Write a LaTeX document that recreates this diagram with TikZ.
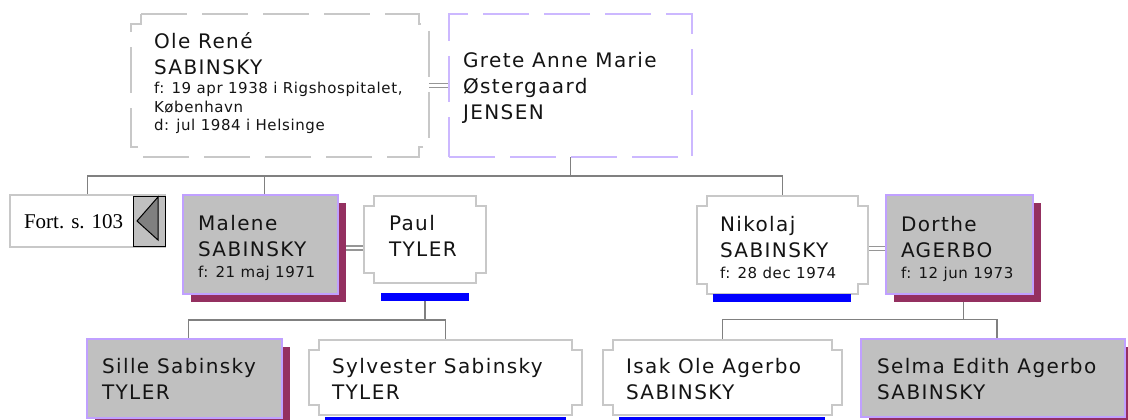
\documentclass[tikz,border=0pt]{standalone}
\usepackage{fontspec}
\setmainfont{DejaVu Sans}
\newfontfamily\bigf{DejaVu Sans}[LetterSpace=7]
\newfontfamily\smallf{DejaVu Sans}[LetterSpace=4]
\newfontfamily\serf{Liberation Serif}
\usetikzlibrary{calc,shadows}
\pgfdeclarelayer{bg}
\pgfsetlayers{bg,main}
\definecolor{lineg}{RGB}{128,128,128}
\definecolor{marg}{RGB}{150,150,150}
\definecolor{boxg}{RGB}{192,192,192}
\definecolor{lav}{RGB}{192,160,255}
\definecolor{lavd}{RGB}{204,184,255}
\definecolor{shad}{RGB}{148,48,96}
\definecolor{nbord}{RGB}{200,200,200}
\definecolor{barblue}{RGB}{0,0,255}
\definecolor{txt}{RGB}{20,20,20}
\definecolor{tri}{RGB}{128,128,128}
\newcommand\BL[1]{\hbox{\bigf\fontsize{20}{26}\selectfont #1}}
\newcommand\SL[1]{\hbox{\smallf\fontsize{15}{19}\selectfont #1}}
\newcommand\notchpath[2]{%
  \draw[#2] ($(#1.north west)+(10,0)$) -- ($(#1.north east)+(-10,0)$) -- ++(0,10) -- ++(10,0)
    -- ($(#1.south east)+(0,-10)$) -- ++(-10,0) -- ++(0,10) -- ($(#1.south west)+(10,0)$)
    -- ++(0,-10) -- ++(-10,0) -- ($(#1.north west)+(0,10)$) -- ++(10,0) -- cycle;}
\begin{document}
\begin{tikzpicture}[x=1pt,y=-1pt,
  conn/.style={draw=lineg, line width=1.5pt},
  mline/.style={draw=marg, line width=1.2pt},
  boxn/.style={inner sep=0pt, outer sep=0pt, draw=none},
  fbox/.style={boxn, fill=boxg, draw=lav, line width=1.5pt,
    drop shadow={shadow xshift=8pt, shadow yshift=-8pt, opacity=1, fill=shad, draw=none}},
  nbox/.style={draw=nbord, fill=white, line width=1.5pt},
  bar/.style={inner sep=0pt, outer sep=0pt, fill=barblue, draw=none, minimum height=8pt},
  ptext/.style={anchor=base west, inner sep=0pt, outer sep=0pt, text=txt},
]
\useasboundingbox (0,0) rectangle (1128,420);

% ---- generation 1
\node[boxn, minimum width=298pt, minimum height=143pt] (ole) at (280,85.5) {};
\notchpath{ole}{draw=nbord, line width=1.2pt, dash pattern=on 46pt off 15pt}
\node[boxn, draw=lavd, line width=1.2pt, dash pattern=on 46pt off 15pt,
  minimum width=243pt, minimum height=143pt] (grete) at (570.5,85.5) {};

\node[ptext] (t-ole) at (154,49) {\vtop{\baselineskip=25pt\BL{Ole René}\BL{SABINSKY}%
  \baselineskip=20pt\SL{f: 19 apr 1938 i Rigshospitalet,}\baselineskip=18.5pt\SL{København}%
  \SL{d: jul 1984 i Helsinge}}};
\node[ptext] (t-grete) at (463,67) {\vtop{\baselineskip=26pt\BL{Grete Anne Marie}\BL{Østergaard}\BL{JENSEN}}};

% ---- generation 2
\node[boxn, draw=nbord, fill=white, line width=1.5pt, minimum width=155pt, minimum height=52pt] (fort) at (87.5,221) {};
\node[ptext, font={\serf\fontsize{21}{24}\selectfont}, text=black] (t-fort) at (24,228) {Fort. s. 103};
\node[boxn, draw=black, fill=boxg, line width=1pt, minimum width=32pt, minimum height=50pt] (fortarr) at (149,221) {};
\draw[fill=tri, draw=black, line width=1pt] ($(fortarr.west)+(4,0)$) -- ($(fortarr.north east)+(-7,1)$)
  -- ($(fortarr.south east)+(-7,-6)$) -- cycle;

\node[fbox, minimum width=155pt, minimum height=99pt] (malene) at (260.5,244.5) {};
\node[boxn, minimum width=122pt, minimum height=87pt] (paul) at (425,239.5) {};
\notchpath{paul}{nbox}
\node[bar, minimum width=88pt] (paulbar) at (425,297) {};

\node[boxn, minimum width=171pt, minimum height=98pt] (nikolaj) at (782.5,245) {};
\notchpath{nikolaj}{nbox}
\node[bar, minimum width=138pt] (nikbar) at (782,298) {};
\node[fbox, minimum width=147pt, minimum height=99pt] (dorthe) at (959.5,244.5) {};

\node[ptext] (t-malene) at (198,230) {\vtop{\baselineskip=26pt\BL{Malene}\BL{SABINSKY}\baselineskip=21pt\SL{f: 21 maj 1971}}};
\node[ptext] (t-paul) at (389,230) {\vtop{\baselineskip=26pt\BL{Paul}\BL{TYLER}}};
\node[ptext] (t-nikolaj) at (720,231) {\vtop{\baselineskip=26pt\BL{Nikolaj}\BL{SABINSKY}\baselineskip=21pt\SL{f: 28 dec 1974}}};
\node[ptext] (t-dorthe) at (901,231) {\vtop{\baselineskip=26pt\BL{Dorthe}\BL{AGERBO}\baselineskip=21pt\SL{f: 12 jun 1973}}};

% ---- generation 3
\node[fbox, minimum width=195pt, minimum height=79pt] (sille) at (184.5,378.5) {};
\node[boxn, minimum width=273pt, minimum height=75pt] (sylvester) at (445.5,377.5) {};
\notchpath{sylvester}{nbox}
\node[bar, minimum width=241pt] (sylbar) at (445.5,421) {};
\node[boxn, minimum width=239pt, minimum height=75pt] (isak) at (722.5,377.5) {};
\notchpath{isak}{nbox}
\node[bar, minimum width=206pt] (isakbar) at (722,421) {};
\node[fbox, minimum width=264pt, minimum height=78pt] (selma) at (993,378) {};

\node[ptext] (t-sille) at (102,373) {\vtop{\baselineskip=26pt\BL{Sille Sabinsky}\BL{TYLER}}};
\node[ptext] (t-sylvester) at (332,373) {\vtop{\baselineskip=26pt\BL{Sylvester Sabinsky}\BL{TYLER}}};
\node[ptext] (t-isak) at (626,373) {\vtop{\baselineskip=26pt\BL{Isak Ole Agerbo}\BL{SABINSKY}}};
\node[ptext] (t-selma) at (877,373) {\vtop{\baselineskip=26pt\BL{Selma Edith Agerbo}\BL{SABINSKY}}};

% ---- connectors
\coordinate (bus1) at ($(grete.south)+(0,19)$);
\coordinate (maltop) at ([xshift=4pt]malene.north);
\coordinate (bus2) at ($(paulbar.south)+(0,19)$);
\coordinate (silletop) at ([xshift=4pt]sille.north);
\coordinate (dbot) at ([xshift=4pt,yshift=-8pt]dorthe.south);
\coordinate (bus3) at ($(dbot)+(0,17.5)$);
\coordinate (selmatop) at ([xshift=4pt]selma.north);
\coordinate (mp1) at (0,246);
\coordinate (mp2) at (0,250);
\coordinate (nd1) at (0,246.5);
\coordinate (nd2) at (0,250.5);
\begin{pgfonlayer}{bg}
\draw[mline] ([yshift=2pt]ole.east) -- ([yshift=2pt]grete.west);
\draw[mline] ([yshift=-2pt]ole.east) -- ([yshift=-2pt]grete.west);
\draw[conn] (grete.south) -- (bus1);
\draw[conn] (fort.north) |- (bus1) -| (nikolaj.north);
\draw[conn] (maltop) -- (maltop |- bus1);
\draw[mline] (malene.east |- mp1) -- (paul.west |- mp1);
\draw[mline] (malene.east |- mp2) -- (paul.west |- mp2);
\draw[mline] (nikolaj.east |- nd1) -- (dorthe.west |- nd1);
\draw[mline] (nikolaj.east |- nd2) -- (dorthe.west |- nd2);
\draw[conn] (paulbar.south) -- (bus2);
\draw[conn] (silletop) |- (bus2) -| (sylvester.north);
\draw[conn] (dbot) -- (bus3);
\draw[conn] (isak.north) |- (bus3) -| (selmatop);
\end{pgfonlayer}
\end{tikzpicture}
\end{document}
